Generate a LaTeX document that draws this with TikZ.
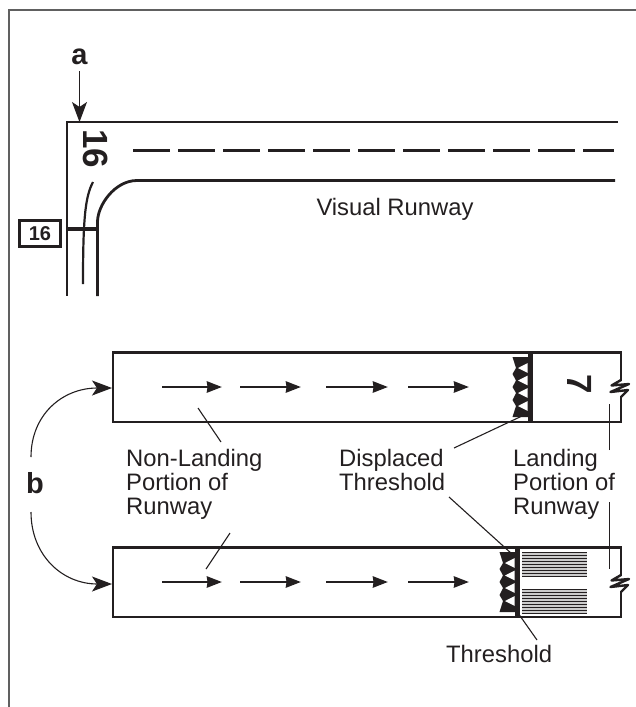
\documentclass[tikz,border=0pt]{standalone}
\usepackage{fontspec}
\setmainfont{Liberation Sans}
\usepackage{tikz}
\usetikzlibrary{positioning}
\usetikzlibrary{arrows.meta}
\definecolor{ink}{HTML}{231F20}

\tikzset{
    runway/.style={draw=ink, line width=2.8pt},
    leader/.style={draw=ink, line width=1.1pt},
    label/.style={font=\fontsize{23.8}{24}\selectfont, text=ink, align=left, inner sep=0pt},
    letter/.style={font=\fontsize{29}{29}\bfseries\selectfont, text=ink, inner sep=0pt},
    numeral/.style={font=\fontsize{35}{35}\bfseries\selectfont, text=ink, inner sep=0pt, rotate=-90},
    bigarrow/.style={draw=ink, line width=1.1pt, -{Stealth[length=20pt,width=15pt,inset=5pt]}},
    flowarrow/.style={draw=ink, line width=2.8pt, -{Stealth[length=15pt,width=11pt,inset=0.5pt]}},
}

\begin{document}
\begin{tikzpicture}[x=1pt, y=-1pt, line join=miter]
        \useasboundingbox (0,0) rectangle (636,707);

        % Outer frame
        \draw[gray!75!black, line width=2pt] (8.5,707) -- (8.5,9.5) -- (636,9.5);

        % Visual runway
        \coordinate (TopCorner) at (67,122);
        \draw[runway] (618,122) -- (TopCorner) -- (67,296);
        \draw[runway] (615,180.5) -- (137,180.5) .. controls (115,180.5) and (97.5,205) .. (97.5,222) -- (97.5,296);
        \draw[draw=ink, line width=2.6pt, dash pattern=on 37pt off 8pt] (133,150.5) -- (614,150.5);
        \draw[draw=ink, line width=2.2pt] (93,182) .. controls (85,197) and (83,220) .. (83,284);
        \node[numeral] (RwyNum) at (95.5,148.5) {16};
        \draw[draw=ink, line width=4.8pt] (67,229) -- (97.5,229);
        \node[draw=ink, line width=2.4pt, minimum width=41pt, minimum height=26pt, inner sep=0pt,
            font=\fontsize{20}{20}\bfseries\selectfont, text=ink] (SignBox) at (40,233.5) {16};
        \node[label] (VisualLabel) at (395,209) {Visual Runway};

        % Callout a
        \node[letter] (LetterA) at (79.5,57) {a};
        \draw[bigarrow] (79.5,71) -- (TopCorner -| LetterA);

        % Two runways with displaced threshold
        \foreach \yshift/\barx in {0/530, 195/517} {
            \begin{scope}[shift={(0,\yshift)}]
                \draw[runway] (113,352.5) rectangle (621,422);
                \foreach \startx/\endx in {162/222, 240/301, 326/388, 408/469} {
                    \draw[flowarrow] (\startx,387) -- (\endx,387);
                }
                % Threshold bar and teeth
                \fill[ink] (\barx-2,357) -- (\barx-17.5,357) -- (\barx-14,368) -- (\barx-17.5,374) -- (\barx-14,380.5)
                    -- (\barx-17.5,387) -- (\barx-14,393) -- (\barx-17.5,400) -- (\barx-14,406) -- (\barx-17.5,417) -- (\barx-2,417) -- cycle;
                \foreach \toothy in {368,380.5,393,406} {
                    \fill[white] (\barx-2.5,\toothy-4.8) -- (\barx-12,\toothy) -- (\barx-2.5,\toothy+4.8) -- cycle;
                }
                \draw[draw=ink, line width=5pt] (\barx,352.5) -- (\barx,422);
                % Break in the right edge
                \fill[white] (618,381) rectangle (624,396);
                \draw[draw=ink, line width=2.4pt, line join=round] (621,380) -- (611.5,385.5) -- (629,384) -- (610.5,392) -- (628,390) -- (621,397);
            \end{scope}
        }

        % Landing stripes on the lower runway
        \fill[gray!40] (522,552) rectangle (587,577);
        \fill[gray!40] (522,589) rectangle (587,614);
        \foreach \stripey in {552.5,555.5,...,577} {
            \draw[draw=ink, line width=1.6pt] (522,\stripey) -- (587,\stripey);
        }
        \foreach \stripey in {589.5,592.5,...,614} {
            \draw[draw=ink, line width=1.6pt] (522,\stripey) -- (587,\stripey);
        }
        \node[numeral] (SevenNum) at (579.5,384) {7};

        % Labels
        \node[label, anchor=north west] (NonLanding) at (126,449) {Non-Landing\\Portion of\\Runway};
        \node[label, anchor=north west] (Displaced) at (339,449) {Displaced\\Threshold};
        \node[label, anchor=north west] (Landing) at (513,449) {Landing\\Portion of\\Runway};
        \node[label, anchor=north west] (ThresholdLabel) at (446,645) {Threshold};

        % Leader lines
        \coordinate (NonUp) at (198,408);
        \coordinate (NonUpEnd) at (221,442);
        \coordinate (NonDown) at (206,569);
        \coordinate (NonDownEnd) at (230,533);
        \draw[leader] (NonUpEnd) -- (NonUp);
        \draw[leader] (NonDownEnd) -- (NonDown);
        \coordinate (DispUp) at (522,416);
        \coordinate (DispUpEnd) at (454,448);
        \coordinate (DispDown) at (512,554);
        \coordinate (DispDownEnd) at (449,497);
        \draw[leader] (DispUpEnd) -- (DispUp);
        \draw[leader] (DispDownEnd) -- (DispDown);
        \coordinate (ThreshUp) at (518,613);
        \coordinate (ThreshEnd) at (537,640);
        \draw[leader] (ThreshEnd) -- (ThreshUp);
        \coordinate (LandUp) at (609.5,404);
        \coordinate (LandUpEnd) at (609.5,450);
        \coordinate (LandDown) at (609.5,569);
        \coordinate (LandDownEnd) at (609.5,502);
        \draw[leader] (LandUpEnd) -- (LandUp);
        \draw[leader] (LandDownEnd) -- (LandDown);

        % Callout b
        \node[letter] (LetterB) at (35,483) {b};
        \coordinate (BUp) at (31,457);
        \coordinate (BDown) at (31,512);
        \coordinate (TipUp) at (112,388);
        \coordinate (TipDown) at (112,584);
        \draw[bigarrow] (BUp) .. controls (31,415) and (62,388) .. (TipUp);
        \draw[bigarrow] (BDown) .. controls (31,555) and (62,584) .. (TipDown);
    \end{tikzpicture}
\end{document}
